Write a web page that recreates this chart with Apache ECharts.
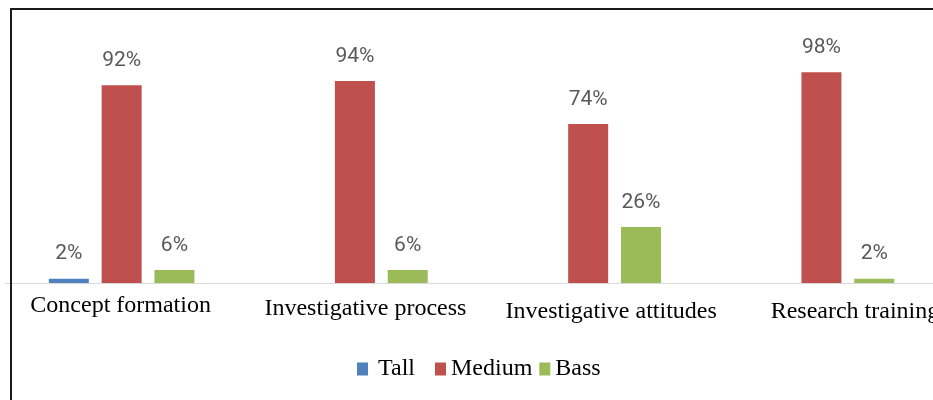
<!DOCTYPE html>
<html>
<head>
<meta charset="utf-8">
<script src="https://cdn.jsdelivr.net/npm/echarts@6/dist/echarts.min.js"></script>
<style>html,body{margin:0;padding:0;background:#fff;overflow:hidden;width:933px;height:400px;}#c{width:942px;height:400px;}</style>
</head>
<body>
<div id="c"></div>
<script>
const categories = ['Concept formation', 'Investigative process', 'Investigative attitudes', 'Research training'];
const tallValues = [2, null, null, null];
const mediumValues = [92, 94, 74, 98];
const bassValues = [6, 6, 26, 2];
const seriesNames = ['Tall', 'Medium', 'Bass'];

const chart = echarts.init(document.getElementById('c'), null, {renderer: 'canvas'});
const labelStyle = {
  show: true, position: 'top', distance: 14,
  formatter: p => p.value + '%',
  fontFamily: 'Roboto', fontSize: 21, color: '#595959'
};
function mk(name, data, color) {
  return {
    name: name, type: 'bar', data: data, barWidth: 40, barGap: '32%',
    itemStyle: {color: color}, label: labelStyle, silent: true
  };
}
const catFont = {fontFamily: 'Liberation Serif', fontSize: 24, color: '#000'};
// per-label nudges (the source image has labels slightly offset)
const labelPads = [[2, 2, 0, 0], [5, 0, 0, 21], [8, 0, 0, 46], [8, 0, 0, 67]];
const rich = {};
labelPads.forEach((p, i) => { rich['l' + i] = Object.assign({padding: p}, catFont); });

const legendCommon = {
  top: 352, itemWidth: 11, itemHeight: 13, icon: 'rect',
  textStyle: {fontFamily: 'Liberation Serif', fontSize: 24, color: '#000'}
};

chart.setOption({
  animation: false,
  grid: {left: 5, top: 68, width: 935, bottom: 117, containLabel: false},
  legend: [
    Object.assign({}, legendCommon, {
      data: [seriesNames[0]], left: 352,
      textStyle: Object.assign({}, legendCommon.textStyle, {padding: [0, 0, 0, 5]})
    }),
    Object.assign({}, legendCommon, {
      data: [seriesNames[1], seriesNames[2]], left: 430, itemGap: 7
    })
  ],
  xAxis: {
    type: 'category', data: categories,
    axisLine: {show: true, lineStyle: {color: '#d9d9d9', width: 1}},
    axisTick: {show: false},
    axisLabel: Object.assign({
      margin: 9, interval: 0,
      formatter: (v, i) => '{l' + i + '|' + v + '}',
      rich: rich
    }, catFont)
  },
  yAxis: {type: 'value', min: 0, max: 100, show: false, splitLine: {show: false}},
  series: [
    mk(seriesNames[0], tallValues, '#4f81bd'),
    mk(seriesNames[1], mediumValues, '#c0504d'),
    mk(seriesNames[2], bassValues, '#9bbb59')
  ],
  graphic: [{
    type: 'rect', z: 100, silent: true,
    shape: {x: 11, y: 9, width: 1000, height: 500},
    style: {fill: 'none', stroke: '#1a1a1a', lineWidth: 2}
  }]
});
</script>
</body>
</html>
